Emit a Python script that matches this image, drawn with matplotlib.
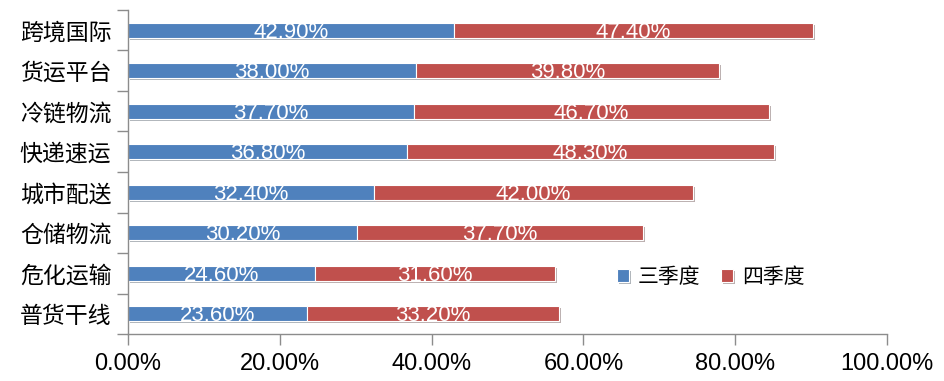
import matplotlib
matplotlib.use("Agg")
import matplotlib.pyplot as plt
import matplotlib.patheffects as pe
from matplotlib.ticker import FixedLocator, FuncFormatter
import numpy as np

plt.rcParams['font.family'] = ['Liberation Sans', 'Noto Sans CJK SC', 'DejaVu Sans']

# 从上到下的类别
categories = ["跨境国际", "货运平台", "冷链物流", "快递速运", "城市配送", "仓储物流", "危化运输", "普货干线"]
q3 = [42.9, 38.0, 37.7, 36.8, 32.4, 30.2, 24.6, 23.6]
q4 = [47.4, 39.8, 46.7, 48.3, 42.0, 37.7, 31.6, 33.2]
series_names = ["三季度", "四季度"]
x_ticks = [0, 20, 40, 60, 80, 100]

blue = "#4F81BD"
red = "#C0504D"
axis_grey = "#8C8C8C"

fig = plt.figure(figsize=(9.45, 3.81), dpi=100)
ax = fig.add_axes([128 / 945, 1 - 334 / 381, (887 - 128) / 945, (334 - 10) / 381])

y = np.arange(len(categories))[::-1]
shadow = [pe.SimplePatchShadow(offset=(1.5, -1.5), alpha=0.35), pe.Normal()]

b1 = ax.barh(y, q3, height=0.37, color=blue, edgecolor="white", linewidth=0.8,
             label=series_names[0], path_effects=shadow)
b2 = ax.barh(y, q4, left=q3, height=0.37, color=red, edgecolor="white", linewidth=0.8,
             label=series_names[1], path_effects=shadow)

for yi, a, b in zip(y, q3, q4):
    ax.text(a / 2, yi - 0.05, f"{a:.2f}%", color="white", fontsize=16,
            ha="center", va="center")
    ax.text(a + b / 2, yi - 0.05, f"{b:.2f}%", color="white", fontsize=16,
            ha="center", va="center")

ax.set_xlim(0, 100)
ax.set_ylim(-0.5, len(categories) - 0.5)

ax.set_xticks(x_ticks)
ax.xaxis.set_major_formatter(FuncFormatter(lambda v, p: f"{v:.2f}%"))
ax.set_yticks(y)
ax.set_yticklabels(categories)
ax.yaxis.set_minor_locator(FixedLocator(np.arange(-0.5, len(categories), 1.0)))

ax.tick_params(axis="x", length=8, width=1, color=axis_grey, labelsize=17, pad=6)
ax.tick_params(axis="y", which="major", length=0, labelsize=16.5, pad=12)
ax.tick_params(axis="y", which="minor", length=8, width=1, color=axis_grey)

for s in ["top", "right"]:
    ax.spines[s].set_visible(False)
for s in ["left", "bottom"]:
    ax.spines[s].set_color(axis_grey)
    ax.spines[s].set_linewidth(1)

ax.legend(handles=[b1, b2], labels=series_names, loc="center left",
          bbox_to_anchor=(0.63, 0.175), ncol=2, frameon=False, fontsize=15,
          handlelength=0.6, handleheight=0.6, handletextpad=0.4, columnspacing=1.0,
          borderpad=0)

fig.savefig("out.png", dpi=100)
